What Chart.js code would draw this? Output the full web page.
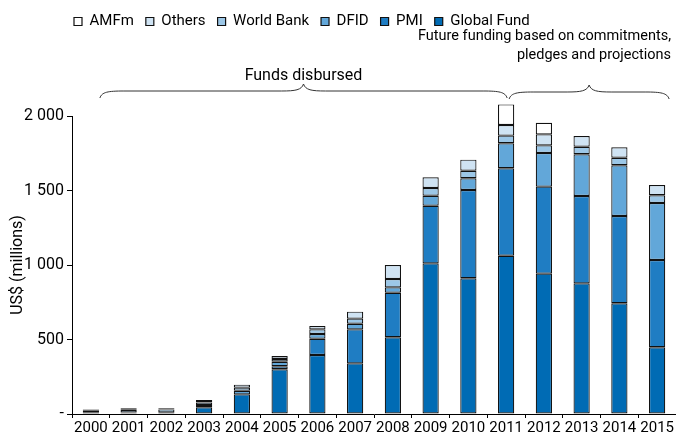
<!DOCTYPE html>
<html>
<head>
<meta charset="utf-8">
<script src="https://cdn.jsdelivr.net/npm/chart.js@4.4.1/dist/chart.umd.min.js"></script>
<style>
  html, body { margin: 0; padding: 0; background: #fff; }
  #wrap { width: 676px; height: 435px; }
</style>
</head>
<body>
<div id="wrap"><canvas id="mycanvas" width="676" height="435"></canvas></div>
<script>
var years = ['2000','2001','2002','2003','2004','2005','2006','2007','2008','2009','2010','2011','2012','2013','2014','2015'];
var globalFund = [0, 0, 3, 45, 132, 300, 396, 340, 515, 1011, 911, 1062, 942, 877, 743, 448];
var pmi        = [0, 0, 0, 0, 0, 20, 109, 228, 299, 387, 592, 587, 584, 586, 586, 586];
var dfid       = [12, 10, 8, 15, 24, 31, 32, 38, 36, 67, 79, 168, 226, 280, 340, 382];
var worldBank  = [10, 18, 20, 18, 21, 18, 31, 34, 56, 52, 51, 51, 51, 51, 51, 52];
var others     = [8, 10, 8, 16, 20, 20, 22, 47, 94, 72, 74, 72, 74, 72, 70, 69];
var amfm       = [0, 0, 0, 0, 0, 0, 0, 0, 0, 0, 0, 138, 78, 0, 0, 0];
var yTickLabels = ['-', '500', '1 000', '1 500', '2 000'];

var FONT = "Roboto, 'Liberation Sans', sans-serif";
Chart.defaults.font.family = FONT;
Chart.defaults.font.size = 15;
Chart.defaults.color = '#000';

function makeSet(label, values, colour) {
  return {
    label: label,
    data: values.map(function(v){ return v === 0 ? null : v; }),
    backgroundColor: colour,
    borderColor: '#111',
    borderWidth: 1.2,
    borderSkipped: false,
    barPercentage: 0.43,
    categoryPercentage: 1,
    clip: false
  };
}

var chartdata = {
  labels: years,
  datasets: [
    makeSet('Global Fund', globalFund, '#006bb4'),
    makeSet('PMI', pmi, '#1f7dc3'),
    makeSet('DFID', dfid, '#62a7d9'),
    makeSet('World Bank', worldBank, '#9cc7e7'),
    makeSet('Others', others, '#cfe3f3'),
    makeSet('AMFm', amfm, '#ffffff')
  ]
};

// legend sits high up with a wide gap below it, shifted right like the original
var legendTweak = {
  id: 'legendTweak',
  beforeInit: function(chart) {
    var lg = chart.legend;
    var fit = lg.fit;
    lg.fit = function() { fit.call(this); this.height = 116; };
    var draw = lg.draw;
    lg.draw = function(area) {
      var c = this.ctx;
      c.save();
      c.translate(62, 2);
      draw.call(this, area);
      c.restore();
    };
  }
};

function drawBrace(ctx, x1, x2, y) {
  var m = (x1 + x2) / 2, d = 7;
  ctx.beginPath();
  ctx.moveTo(x1, y + d);
  ctx.bezierCurveTo(x1 + 2, y + 1, x1 + 8, y, x1 + 24, y);
  ctx.lineTo(m - 22, y);
  ctx.bezierCurveTo(m - 8, y, m - 2, y - 1, m, y - d);
  ctx.bezierCurveTo(m + 2, y - 1, m + 8, y, m + 22, y);
  ctx.lineTo(x2 - 24, y);
  ctx.bezierCurveTo(x2 - 8, y, x2 - 2, y + 1, x2, y + d);
  ctx.stroke();
}

var braces = {
  id: 'braces',
  afterDraw: function(chart) {
    var ctx = chart.ctx;
    var xs = chart.scales.x;
    var a1 = xs.getPixelForValue(0) + 9, b1 = xs.getPixelForValue(11) + 1;
    var a2 = xs.getPixelForValue(11) + 3, b2 = xs.getPixelForValue(15) + 12;
    ctx.save();
    ctx.strokeStyle = '#333';
    ctx.lineWidth = 1;
    drawBrace(ctx, a1, b1, 91);
    drawBrace(ctx, a2, b2, 92);
    ctx.fillStyle = '#000';
    ctx.textBaseline = 'alphabetic';
    ctx.font = '16px ' + FONT;
    ctx.textAlign = 'center';
    ctx.fillText('Funds disbursed', (a1 + b1) / 2, 80);
    ctx.font = '14.5px ' + FONT;
    ctx.textAlign = 'right';
    ctx.fillText('Future funding based on commitments,', 671, 40);
    ctx.fillText('pledges and projections', 671, 59);
    ctx.restore();
  }
};

var ctx = document.getElementById('mycanvas');
var barGraph = new Chart(ctx, {
  type: 'bar',
  data: chartdata,
  plugins: [legendTweak, braces],
  options: {
    responsive: false,
    animation: false,
    layout: { padding: { left: 0, right: 0, top: 0, bottom: 0 } },
    plugins: {
      tooltip: { enabled: false },
      legend: {
        reverse: true,
        align: 'start',
        labels: { boxWidth: 8, boxHeight: 8, padding: 12, font: { size: 15 } }
      }
    },
    scales: {
      x: {
        stacked: true,
        grid: { display: true, drawOnChartArea: false, drawTicks: true, tickLength: 4, color: '#000', offset: true },
        border: { display: true, color: '#000', width: 1 },
        ticks: { autoSkip: false, maxRotation: 0, padding: 1, font: { size: 15 } },
        afterFit: function(s) { s.height = 21; }
      },
      y: {
        stacked: true,
        min: 0,
        max: 2000,
        grid: { display: true, drawOnChartArea: false, drawTicks: true, tickLength: 5, color: '#000' },
        border: { display: true, color: '#000', width: 1 },
        ticks: {
          stepSize: 500,
          padding: 3,
          font: { size: 16 },
          callback: function(v) { return yTickLabels[Math.round(v / 500)]; }
        },
        title: { display: true, text: 'US$ (millions)', font: { size: 16 }, padding: { top: 8, bottom: 0 } },
        afterFit: function(s) { s.width = 72; }
      }
    }
  }
});
</script>
</body>
</html>
